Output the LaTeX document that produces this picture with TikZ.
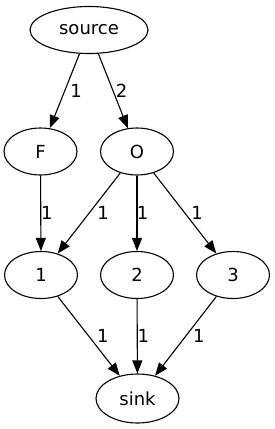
\documentclass[tikz,border=0pt]{standalone}
\usepackage{fontspec}
\setmainfont{DejaVu Sans}
\usetikzlibrary{positioning,arrows.meta,shapes.geometric}

\begin{document}
\begin{tikzpicture}[
  x=1pt, y=-1pt,
  font=\fontsize{18}{20}\selectfont,
  gnode/.style={draw, ellipse, line width=1.1pt, inner sep=0pt, minimum width=73pt, minimum height=47pt},
  garr/.style={-{Triangle[length=13pt, width=10pt]}, line width=1.1pt},
  wt/.style={midway, inner sep=0pt, xshift=#1}
]
  \useasboundingbox (0,0) rectangle (275,429);

  \node[gnode, minimum width=118pt] (src) at (89,30) {source};
  \node[gnode] (f) at (40.5,151.5) {F};
  \node[gnode] (o) at (137,151.5) {O};
  \node[gnode] (n1) at (41,275) {1};
  \node[gnode] (n2) at (137,275) {2};
  \node[gnode] (n3) at (233,275) {3};
  \node[gnode, minimum width=83pt, minimum height=49pt] (sink) at (137.5,398.5) {sink};

  \draw[garr] (src) -- node[wt=11.5pt] {1} (f);
  \draw[garr] (src) -- node[wt=8.5pt] {2} (o);
  \draw[garr] (f) -- node[wt=6pt] {1} (n1);
  \draw[garr] (o) -- node[wt=14pt] {1} (n1);
  \draw[garr] (o) -- node[wt=5.5pt] {1} (n2);
  \draw[garr] (o) -- node[wt=12pt] {1} (n3);
  \draw[garr] (n1) -- node[wt=14pt] {1} (sink);
  \draw[garr] (n2) -- node[wt=6pt] {1} (sink);
  \draw[garr] (n3) -- node[wt=13pt] {1} (sink);
\end{tikzpicture}
\end{document}
